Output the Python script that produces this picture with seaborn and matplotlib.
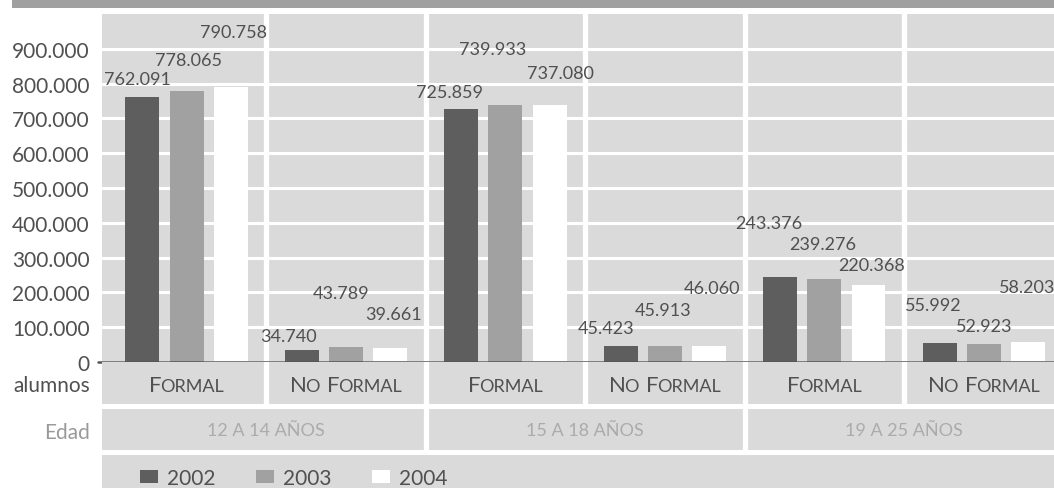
import numpy as np
import pandas as pd
import matplotlib
matplotlib.use("Agg")
import matplotlib.pyplot as plt
import seaborn as sns

# datos del grafico
edades = ["12 A 14 AÑOS", "15 A 18 AÑOS", "19 A 25 AÑOS"]
tipos = ["Formal", "No Formal"]
anios = ["2002", "2003", "2004"]

# alumnos por año, en orden: (12-14 formal, 12-14 no formal, 15-18 ..., 19-25 ...)
alumnos_2002 = [762091, 34740, 725859, 45423, 243376, 55992]
alumnos_2003 = [778065, 43789, 739933, 45913, 239276, 52923]
alumnos_2004 = [790758, 39661, 737080, 46060, 220368, 58203]

y_ticks = [0, 100000, 200000, 300000, 400000, 500000, 600000, 700000, 800000, 900000]

# desplazamiento de las etiquetas de valor (pixeles, respecto al tope de la barra)
offsets = {
    "2002": [(-5, 18), (-13, 14), (-12, 17), (-15, 18), (-11, 54), (-6, 38)],
    "2003": [(2, 31), (-5, 54), (-13, 56), (-2, 36), (-2, 35), (0, 18)],
    "2004": [(3, 55), (3, 34), (11, 32), (3, 58), (3, 20), (-1, 55)],
}

# armar tabla larga para seaborn
grupos = [f"{e}|{t}" for e in edades for t in tipos]
rows = []
for anio, vals in zip(anios, [alumnos_2002, alumnos_2003, alumnos_2004]):
    for g, v in zip(grupos, vals):
        rows.append({"grupo": g, "anio": anio, "alumnos": v})
df = pd.DataFrame(rows)

sns.set_style("white")
plt.rcParams["font.family"] = ["Lato", "DejaVu Sans"]

BG = "#dadada"
TXT = "#505050"
colores = ["#5e5e5e", "#a1a1a1", "#ffffff"]

W, H = 1054, 489
fig = plt.figure(figsize=(W / 100, H / 100), dpi=100)
renderer = fig.canvas.get_renderer()
left = 102 / W
xlim = (-0.53, 5.44)


def text_w(s, size):
    t = fig.text(0, 0, s, fontsize=size)
    w = t.get_window_extent(renderer).width
    t.remove()
    return w


# versalitas a mano: inicial grande, resto en mayuscula chica
def small_caps(a, x, y, label, big=16, small=13, color=TXT, dy=-8):
    pieces = []
    for word in label.split(" "):
        pieces.append((word[0].upper(), big, -1.5))
        if len(word) > 1:
            pieces.append((word[1:].upper(), small, 0))
        pieces.append((None, 7, 0))
    pieces = pieces[:-1]
    widths = [p[1] if p[0] is None else text_w(p[0], p[1]) + p[2] for p in pieces]
    pos = -sum(widths) / 2
    for (s, size, _), w in zip(pieces, widths):
        if s is not None:
            a.annotate(s, (x, y), xytext=(pos, dy), textcoords="offset pixels",
                       ha="left", va="baseline", fontsize=size, color=color)
        pos += w


# banda superior
top = fig.add_axes([12 / W, 1 - 9 / H, 1 - 12 / W, 9 / H])
top.set_facecolor("#a0a0a0")

ax = fig.add_axes([left, 1 - 363 / H, 1 - left, (363 - 15) / H])
ax.set_facecolor(BG)
sns.barplot(data=df, x="grupo", y="alumnos", hue="anio", order=grupos,
            hue_order=anios, palette=colores, saturation=1, errorbar=None,
            width=0.83, gap=0.23, linewidth=0, ax=ax)

ax.set_xlim(*xlim)
ax.set_ylim(0, 1000000)
ax.set_axisbelow(True)
ax.yaxis.grid(True, color="white", lw=2.2)
for i in range(len(grupos) - 1):
    ax.axvline(i + 0.5, color="white", lw=3.8, zorder=0.8)
ax.axhline(0, xmin=-0.004, color="#555555", lw=1.8, clip_on=False, zorder=5)

ax.set_yticks(y_ticks)
ax.set_yticklabels([f"{t:,}".replace(",", ".") for t in y_ticks],
                   fontsize=15, color=TXT)
ax.tick_params(axis="y", length=0, pad=9)
ax.set_xticks([])
ax.set_xlabel("")
ax.set_ylabel("")

# etiquetas de valor
for anio, cont in zip(anios, ax.containers):
    for bar, (dx, dy) in zip(cont, offsets[anio]):
        v = int(round(bar.get_height()))
        ax.annotate(f"{v:,}".replace(",", "."),
                    (bar.get_x() + bar.get_width() / 2, bar.get_height()),
                    xytext=(dx, dy), textcoords="offset pixels",
                    ha="center", va="center", fontsize=13, color=TXT)

# leyenda
leg = ax.get_legend()
handles = leg.legend_handles
labels = [t.get_text() for t in leg.get_texts()]
leg.remove()

# fila de tipo
cat = fig.add_axes([left, 1 - 405 / H, 1 - left, 42 / H])
cat.set_facecolor(BG)
cat.set_xlim(*xlim)
cat.set_ylim(0, 1)
for i in range(len(grupos) - 1):
    cat.axvline(i + 0.5, color="white", lw=3.8)
for i, g in enumerate(grupos):
    small_caps(cat, i, 0.5, g.split("|")[1])
fig.text(90 / W, 1 - 386 / H, "alumnos", ha="right", va="center",
         fontsize=15, color=TXT)

# fila de edad
ed = fig.add_axes([left, 1 - 451 / H, 1 - left, 41 / H])
ed.set_facecolor(BG)
ed.set_xlim(*xlim)
ed.set_ylim(0, 1)
for x in [1.5, 3.5]:
    ed.axvline(x, color="white", lw=3.8)
for i, e in enumerate(edades):
    ed.text(2 * i + 0.5, 0.5, e, ha="center", va="center",
            fontsize=13, color="#ababab")
fig.text(90 / W, 1 - 433 / H, "Edad", ha="right", va="center",
         fontsize=15, color="#9a9a9a")

# fila de leyenda
lg = fig.add_axes([left, 0, 1 - left, 33 / H])
lg.set_facecolor(BG)

for a in [top, ax, cat, ed, lg]:
    a.set_xticks([])
    if a is not ax:
        a.set_yticks([])
    for s in a.spines.values():
        s.set_visible(False)

fig.legend(handles, labels, loc="center left",
           bbox_to_anchor=(140 / W, 1 - 479 / H), ncol=3, frameon=False,
           fontsize=15, handlelength=0.85, handleheight=0.58,
           handletextpad=0.45, columnspacing=1.95, borderpad=0,
           borderaxespad=0, labelcolor=TXT)

fig.savefig("out.png", dpi=100)
